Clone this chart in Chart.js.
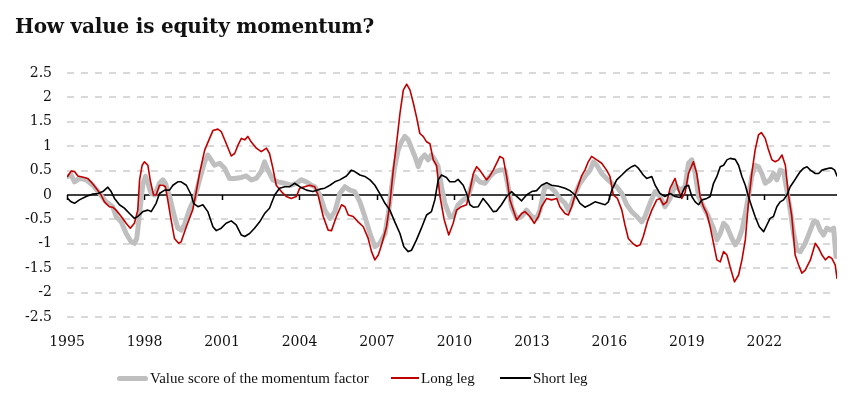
<!DOCTYPE html>
<html>
<head>
<meta charset="utf-8">
<script src="https://cdn.jsdelivr.net/npm/chart.js@4"></script>
<style>
  body { margin: 0; background: #fff; }
  #wrap { position: relative; width: 854px; height: 398px; }
  #title { position: absolute; left: 15px; top: 14px; font: bold 20px "DejaVu Serif", serif; color: #111; white-space: nowrap; letter-spacing: -0.2px; }
  #legend { position: absolute; top: 369px; left: 0; width: 854px; font: 15px "Liberation Serif", serif; color: #111; }
  .item { position: absolute; top: 0; display: flex; align-items: center; height: 18px; white-space: nowrap; }
  .swatch { display: inline-block; margin-right: 2px; }
</style>
</head>
<body>
<div id="wrap">
  <canvas id="chart" width="854" height="398"></canvas>
  <div id="title">How value is equity momentum?</div>
  <div id="legend">
    <div class="item" style="left:117px"><span class="swatch" style="width:31px;height:5px;border-radius:3px;background:#bfbfbf"></span>Value score of the momentum factor</div>
    <div class="item" style="left:391px"><span class="swatch" style="width:28px;height:2px;background:#c00000"></span>Long leg</div>
    <div class="item" style="left:500px"><span class="swatch" style="width:31px;height:2px;background:#000"></span>Short leg</div>
  </div>
</div>
<script>
// [year, value] readings
const valueScore = [
  [1995.02,0.38],[1995.16,0.41],[1995.29,0.27],[1995.48,0.34],[1995.74,0.31],[1996.0,0.2],[1996.26,0.03],[1996.51,-0.14],
  [1996.77,-0.24],[1996.9,-0.44],[1997.1,-0.55],[1997.29,-0.79],[1997.48,-0.96],[1997.61,-0.99],[1997.7,-0.89],[1997.81,-0.38],
  [1997.94,0.24],[1998.04,0.38],[1998.13,0.24],[1998.26,0.03],[1998.39,0],[1998.58,0.24],[1998.71,0.31],[1998.81,0.24],
  [1998.97,-0.03],[1999.16,-0.44],[1999.29,-0.68],[1999.42,-0.72],[1999.55,-0.61],[1999.74,-0.3],[1999.94,-0.07],[2000.13,0.31],
  [2000.33,0.68],[2000.45,0.82],[2000.58,0.72],[2000.71,0.61],[2000.91,0.65],[2001.1,0.55],[2001.29,0.34],[2001.49,0.34],
  [2001.75,0.36],[2001.94,0.39],[2002.13,0.31],[2002.33,0.34],[2002.52,0.48],[2002.65,0.68],[2002.78,0.51],[2002.97,0.31],
  [2003.17,0.27],[2003.43,0.24],[2003.68,0.2],[2003.88,0.24],[2004.07,0.31],[2004.27,0.27],[2004.46,0.2],[2004.6,0.17],
  [2004.79,0],[2004.98,-0.31],[2005.18,-0.48],[2005.37,-0.34],[2005.56,0.03],[2005.76,0.17],[2005.95,0.1],[2006.14,0.07],
  [2006.34,-0.14],[2006.53,-0.44],[2006.73,-0.79],[2006.92,-1.06],[2007.11,-0.99],[2007.31,-0.79],[2007.44,-0.38],[2007.57,0.17],
  [2007.69,0.58],[2007.82,0.92],[2007.95,1.09],[2008.08,1.2],[2008.21,1.13],[2008.34,0.96],[2008.47,0.79],[2008.6,0.58],
  [2008.72,0.75],[2008.85,0.82],[2008.98,0.72],[2009.11,0.82],[2009.24,0.72],[2009.37,0.58],[2009.5,0.17],[2009.63,-0.17],
  [2009.82,-0.44],[2009.95,-0.44],[2010.14,-0.2],[2010.34,-0.1],[2010.53,-0.03],[2010.66,0.2],[2010.79,0.38],[2010.98,0.27],
  [2011.18,0.24],[2011.37,0.38],[2011.57,0.48],[2011.76,0.51],[2011.95,0.51],[2012.08,0.17],[2012.21,-0.24],[2012.41,-0.48],
  [2012.6,-0.44],[2012.79,-0.31],[2012.99,-0.44],[2013.18,-0.48],[2013.31,-0.31],[2013.5,0.17],[2013.7,0.17],[2013.89,0.07],
  [2014.08,-0.07],[2014.28,-0.17],[2014.41,-0.31],[2014.54,-0.17],[2014.67,0.03],[2014.86,0.24],[2015.05,0.38],[2015.25,0.51],
  [2015.38,0.68],[2015.51,0.61],[2015.7,0.44],[2015.89,0.34],[2016.09,0.24],[2016.28,0.17],[2016.48,0.03],[2016.67,-0.2],
  [2016.86,-0.34],[2017.06,-0.44],[2017.25,-0.55],[2017.38,-0.44],[2017.57,-0.17],[2017.77,0.07],[2017.96,-0.03],[2018.15,-0.24],
  [2018.35,-0.07],[2018.54,0.2],[2018.74,0.1],[2018.93,0.17],[2019.06,0.65],[2019.19,0.72],[2019.32,0.44],[2019.45,-0.03],
  [2019.64,-0.24],[2019.83,-0.44],[2020.03,-0.68],[2020.16,-0.92],[2020.29,-0.79],[2020.42,-0.58],[2020.55,-0.65],[2020.74,-0.89],
  [2020.87,-1.02],[2021.0,-0.92],[2021.13,-0.72],[2021.26,-0.38],[2021.38,-0.03],[2021.51,0.38],[2021.64,0.61],[2021.77,0.58],
  [2021.9,0.44],[2022.03,0.24],[2022.22,0.31],[2022.35,0.44],[2022.48,0.31],[2022.61,0.51],[2022.74,0.48],[2022.87,0.1],
  [2023.0,-0.31],[2023.13,-0.79],[2023.26,-1.13],[2023.39,-1.16],[2023.58,-0.99],[2023.78,-0.72],[2023.9,-0.55],[2024.03,-0.55],
  [2024.16,-0.72],[2024.29,-0.82],[2024.42,-0.68],[2024.55,-0.72],[2024.68,-0.68],[2024.77,-1.26]
];

const longLeg = [
  [1995.02,0.38],[1995.16,0.49],[1995.29,0.48],[1995.42,0.39],[1995.67,0.36],[1995.80,0.34],[1995.93,0.27],[1996.13,0.14],
  [1996.32,0],[1996.45,-0.14],[1996.64,-0.24],[1996.77,-0.25],[1996.90,-0.31],[1997.10,-0.44],[1997.29,-0.58],[1997.45,-0.68],
  [1997.61,-0.58],[1997.74,-0.31],[1997.81,0.31],[1997.91,0.61],[1998.00,0.68],[1998.13,0.61],[1998.22,0.31],[1998.35,0],
  [1998.45,0],[1998.58,0.2],[1998.71,0.2],[1998.81,0.17],[1998.90,-0.1],[1999.03,-0.51],[1999.16,-0.89],[1999.32,-0.99],
  [1999.42,-0.96],[1999.62,-0.65],[1999.77,-0.44],[1999.87,-0.3],[1999.98,0],[2000.13,0.44],[2000.33,0.92],[2000.52,1.16],
  [2000.65,1.32],[2000.84,1.35],[2000.97,1.3],[2001.16,1.06],[2001.36,0.8],[2001.49,0.85],[2001.62,1.02],[2001.75,1.16],
  [2001.88,1.13],[2002.0,1.2],[2002.13,1.09],[2002.33,0.96],[2002.52,0.89],[2002.72,0.96],[2002.84,0.85],[2002.97,0.55],
  [2003.10,0.2],[2003.30,0.07],[2003.49,-0.03],[2003.68,-0.07],[2003.88,-0.03],[2004.01,0.14],[2004.2,0.17],[2004.4,0.2],
  [2004.59,0.17],[2004.72,0],[2004.92,-0.44],[2005.11,-0.72],[2005.24,-0.73],[2005.43,-0.44],[2005.63,-0.2],[2005.76,-0.24],
  [2005.89,-0.41],[2006.08,-0.44],[2006.27,-0.55],[2006.47,-0.65],[2006.66,-0.89],[2006.79,-1.16],[2006.92,-1.33],[2007.05,-1.23],
  [2007.18,-1.02],[2007.37,-0.65],[2007.50,-0.17],[2007.63,0.51],[2007.79,1.2],[2007.89,1.67],[2008.02,2.15],[2008.15,2.27],
  [2008.28,2.15],[2008.41,1.88],[2008.53,1.6],[2008.66,1.26],[2008.79,1.2],[2008.92,1.09],[2009.05,1.05],[2009.18,0.72],
  [2009.31,0.6],[2009.43,0],[2009.6,-0.5],[2009.78,-0.82],[2009.95,-0.58],[2010.08,-0.31],[2010.27,-0.24],[2010.47,-0.2],
  [2010.6,0.1],[2010.73,0.44],[2010.86,0.58],[2010.98,0.51],[2011.11,0.41],[2011.24,0.31],[2011.37,0.39],[2011.5,0.51],
  [2011.63,0.65],[2011.76,0.79],[2011.89,0.75],[2012.02,0.38],[2012.15,-0.1],[2012.28,-0.31],[2012.41,-0.51],[2012.6,-0.38],
  [2012.73,-0.34],[2012.92,-0.44],[2013.09,-0.58],[2013.25,-0.44],[2013.37,-0.24],[2013.57,-0.07],[2013.76,-0.1],[2013.96,-0.07],
  [2014.08,-0.24],[2014.28,-0.38],[2014.41,-0.41],[2014.54,-0.24],[2014.67,0],[2014.8,0.2],[2014.92,0.39],[2015.05,0.51],
  [2015.18,0.68],[2015.31,0.79],[2015.51,0.72],[2015.7,0.65],[2015.89,0.51],[2016.02,0.38],[2016.15,0],[2016.31,-0.07],
  [2016.48,-0.31],[2016.6,-0.61],[2016.73,-0.89],[2016.9,-0.99],[2017.06,-1.05],[2017.19,-1.02],[2017.31,-0.85],[2017.47,-0.55],
  [2017.64,-0.31],[2017.83,-0.1],[2017.96,-0.07],[2018.09,-0.2],[2018.22,-0.14],[2018.35,0.14],[2018.54,0.34],[2018.67,0.1],
  [2018.8,-0.07],[2018.93,0.05],[2019.06,0.44],[2019.25,0.68],[2019.38,0.44],[2019.51,-0.03],[2019.64,-0.24],[2019.77,-0.38],
  [2019.9,-0.65],[2020.03,-0.99],[2020.16,-1.33],[2020.29,-1.37],[2020.42,-1.16],[2020.55,-1.23],[2020.67,-1.47],[2020.84,-1.78],
  [2021.0,-1.64],[2021.13,-1.33],[2021.26,-0.92],[2021.38,-0.17],[2021.51,0.44],[2021.64,0.92],[2021.77,1.23],[2021.88,1.28],
  [2022.03,1.16],[2022.16,0.92],[2022.29,0.72],[2022.42,0.68],[2022.55,0.72],[2022.68,0.82],[2022.81,0.61],[2022.93,0],
  [2023.06,-0.44],[2023.19,-1.23],[2023.32,-1.43],[2023.45,-1.6],[2023.58,-1.54],[2023.78,-1.33],[2023.97,-0.99],[2024.1,-1.09],
  [2024.23,-1.23],[2024.36,-1.33],[2024.49,-1.26],[2024.61,-1.3],[2024.74,-1.43],[2024.81,-1.71]
];

const shortLeg = [
  [1995.02,-0.07],[1995.16,-0.14],[1995.29,-0.17],[1995.48,-0.1],[1995.74,-0.03],[1996.0,0.02],[1996.19,0.03],[1996.39,0.07],
  [1996.58,0.16],[1996.71,0.07],[1996.84,-0.07],[1997.03,-0.2],[1997.22,-0.27],[1997.42,-0.38],[1997.61,-0.48],[1997.74,-0.44],
  [1997.94,-0.34],[1998.13,-0.31],[1998.26,-0.34],[1998.45,-0.17],[1998.58,0.03],[1998.78,0.1],[1998.97,0.1],[1999.1,0.2],
  [1999.29,0.27],[1999.42,0.27],[1999.62,0.2],[1999.81,0],[1999.9,-0.17],[2000.07,-0.24],[2000.26,-0.2],[2000.45,-0.34],
  [2000.65,-0.65],[2000.78,-0.73],[2000.97,-0.68],[2001.16,-0.58],[2001.36,-0.53],[2001.55,-0.61],[2001.75,-0.82],[2001.88,-0.85],
  [2002.07,-0.79],[2002.26,-0.68],[2002.46,-0.55],[2002.65,-0.38],[2002.84,-0.27],[2003.04,0],[2003.23,0.14],[2003.43,0.17],
  [2003.62,0.17],[2003.81,0.24],[2004.01,0.17],[2004.27,0.1],[2004.52,0.07],[2004.79,0.12],[2004.98,0.14],[2005.18,0.2],
  [2005.37,0.27],[2005.56,0.31],[2005.82,0.39],[2006.01,0.51],[2006.14,0.48],[2006.34,0.41],[2006.53,0.38],[2006.73,0.31],
  [2006.92,0.2],[2007.11,0.03],[2007.31,-0.17],[2007.5,-0.31],[2007.69,-0.55],[2007.89,-0.79],[2008.04,-1.06],[2008.21,-1.16],
  [2008.34,-1.13],[2008.53,-0.92],[2008.72,-0.68],[2008.92,-0.41],[2009.11,-0.34],[2009.24,-0.1],[2009.37,0.31],[2009.5,0.41],
  [2009.69,0.36],[2009.82,0.27],[2010.01,0.27],[2010.14,0.32],[2010.34,0.2],[2010.47,0.03],[2010.6,-0.2],[2010.73,-0.25],
  [2010.92,-0.24],[2011.11,-0.07],[2011.31,-0.2],[2011.5,-0.34],[2011.63,-0.33],[2011.82,-0.2],[2012.02,-0.03],[2012.21,0.07],
  [2012.41,-0.03],[2012.6,-0.12],[2012.79,0],[2012.99,0.07],[2013.18,0.09],[2013.37,0.2],[2013.57,0.25],[2013.76,0.2],
  [2014.02,0.18],[2014.28,0.14],[2014.47,0.09],[2014.67,0],[2014.86,-0.17],[2015.05,-0.25],[2015.25,-0.2],[2015.44,-0.14],
  [2015.64,-0.17],[2015.83,-0.2],[2015.96,-0.14],[2016.09,0.1],[2016.28,0.31],[2016.48,0.41],[2016.67,0.51],[2016.86,0.58],
  [2016.99,0.61],[2017.12,0.55],[2017.31,0.41],[2017.44,0.34],[2017.64,0.38],[2017.77,0.2],[2017.96,0.03],[2018.15,-0.03],
  [2018.35,0.03],[2018.54,-0.03],[2018.74,-0.05],[2018.93,0.17],[2019.06,0.2],[2019.19,-0.03],[2019.32,-0.14],[2019.45,-0.2],
  [2019.58,-0.1],[2019.77,-0.07],[2019.9,-0.03],[2020.03,0.24],[2020.16,0.38],[2020.29,0.58],[2020.42,0.61],[2020.55,0.72],
  [2020.67,0.75],[2020.87,0.73],[2021.0,0.61],[2021.13,0.38],[2021.26,0.2],[2021.38,-0.03],[2021.51,-0.24],[2021.64,-0.44],
  [2021.8,-0.65],[2021.97,-0.75],[2022.1,-0.61],[2022.22,-0.48],[2022.35,-0.44],[2022.48,-0.24],[2022.61,-0.14],[2022.74,-0.1],
  [2022.87,0],[2023.0,0.17],[2023.13,0.27],[2023.26,0.38],[2023.39,0.48],[2023.52,0.55],[2023.65,0.58],[2023.78,0.51],
  [2023.97,0.44],[2024.1,0.44],[2024.23,0.51],[2024.36,0.53],[2024.49,0.55],[2024.61,0.55],[2024.72,0.51],[2024.81,0.39]
];

const xStart = 1995;
const xEnd = 2024.81;
const yTicks = [-2.5, -2, -1.5, -1, -0.5, 0, 0.5, 1, 1.5, 2, 2.5];

const toXY = pts => pts.map(([x, y]) => ({ x, y }));
const tickFont = { family: '"DejaVu Serif", serif', size: 14 };

// black zero line with little tick marks under it
const zeroAxis = {
  id: 'zeroAxis',
  beforeDatasetsDraw(chart) {
    const { ctx, chartArea, scales: { x, y } } = chart;
    const y0 = y.getPixelForValue(0);
    ctx.save();
    ctx.strokeStyle = '#000';
    ctx.lineWidth = 1.5;
    ctx.beginPath();
    ctx.moveTo(chartArea.left, y0);
    ctx.lineTo(chartArea.right, y0);
    for (const t of x.ticks) {
      const px = Math.round(x.getPixelForValue(t.value)) + 0.5;
      ctx.moveTo(px, y0);
      ctx.lineTo(px, y0 + 5);
    }
    ctx.stroke();
    ctx.restore();
  },
};

new Chart(document.getElementById('chart'), {
  type: 'line',
  data: {
    datasets: [
      { label: 'Value score of the momentum factor', data: toXY(valueScore), borderColor: '#bfbfbf', borderWidth: 5, order: 3 },
      { label: 'Long leg', data: toXY(longLeg), borderColor: '#c00000', borderWidth: 1.6, order: 2 },
      { label: 'Short leg', data: toXY(shortLeg), borderColor: '#000000', borderWidth: 1.6, order: 1 },
    ],
  },
  options: {
    responsive: false,
    animation: false,
    layout: { padding: { top: 73, right: 17, left: 0, bottom: 0 } },
    elements: {
      point: { radius: 0 },
      line: { tension: 0, borderJoinStyle: 'round', borderCapStyle: 'round', fill: false },
    },
    scales: {
      x: {
        type: 'linear',
        min: xStart,
        max: xEnd,
        afterFit: s => { s.height = 81; },
        grid: { display: false },
        border: { display: false },
        ticks: {
          stepSize: 3,
          includeBounds: false,
          autoSkip: false,
          maxRotation: 0,
          padding: 9,
          color: '#111',
          font: tickFont,
          callback: v => String(v),
        },
      },
      y: {
        min: yTicks[0],
        max: yTicks[yTicks.length - 1],
        afterFit: s => { s.width = 67; },
        afterBuildTicks: s => { s.ticks = yTicks.map(v => ({ value: v })); },
        grid: {
          drawTicks: false,
          lineWidth: 2,
          color: c => (c.tick && c.tick.value === 0 ? 'rgba(0,0,0,0)' : '#d9d9d9'),
        },
        border: { display: false, dash: [7, 7] },
        ticks: { padding: 15, color: '#111', font: tickFont, callback: v => String(v) },
      },
    },
    plugins: {
      legend: { display: false },
      tooltip: { enabled: false },
    },
  },
  plugins: [zeroAxis],
});
</script>
</body>
</html>
